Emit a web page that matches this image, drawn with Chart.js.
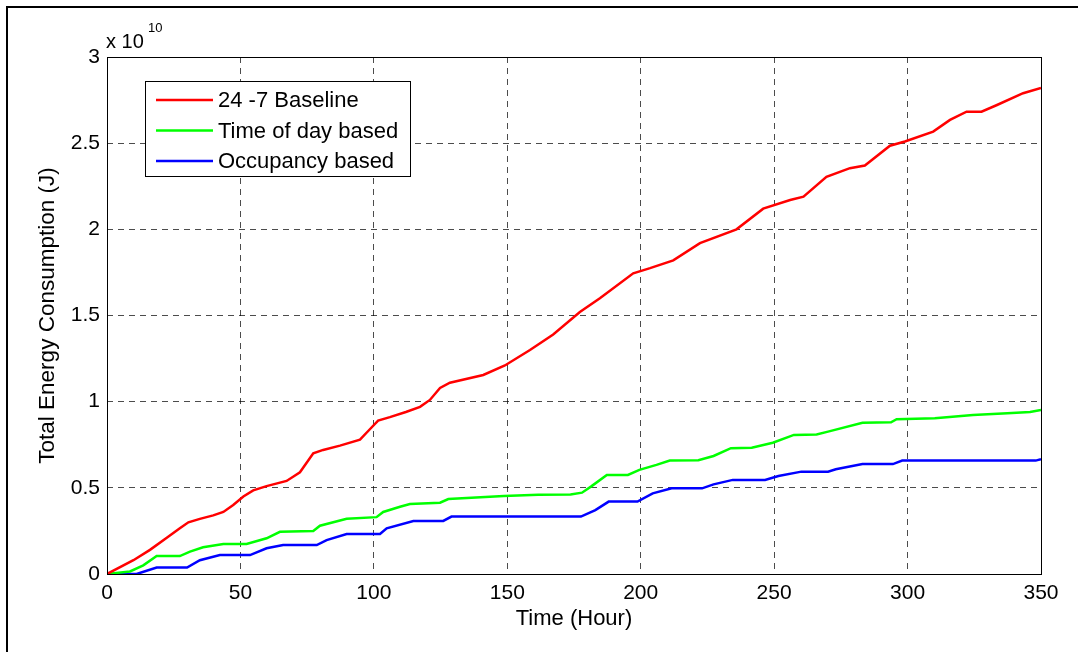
<!DOCTYPE html>
<html>
<head>
<meta charset="utf-8">
<script src="https://cdn.jsdelivr.net/npm/chart.js@4/dist/chart.umd.min.js"></script>
<style>
  html, body { margin: 0; padding: 0; background: #fff; }
  #wrap { position: relative; width: 1078px; height: 652px; }
</style>
</head>
<body>
<div id="wrap"><canvas id="chart"></canvas></div>
<script>
// values, energy in units of 1e10 J
const baselineHours = [0, 9.9, 16.1, 22.4, 27.3, 30.5, 34.8, 39.8, 43.6, 47.3, 51.1, 54.8, 59.8, 67.3, 72.3, 77.3, 81, 87.3, 94.8, 98.5, 101.6, 106, 112, 117.3, 121, 124.8, 128.5, 141, 149.1, 158.5, 167.2, 177.2, 184.7, 197.2, 203.5, 212.2, 222.2, 235.9, 245.9, 256, 261, 269.6, 278.4, 284, 293.4, 299, 309.6, 315.9, 322.1, 327.7, 333.3, 343.3, 350];
const baselineEnergy = [0, 0.08, 0.14, 0.21, 0.265, 0.30, 0.32, 0.34, 0.36, 0.40, 0.45, 0.485, 0.51, 0.54, 0.59, 0.70, 0.72, 0.745, 0.78, 0.84, 0.89, 0.91, 0.94, 0.97, 1.01, 1.08, 1.11, 1.155, 1.21, 1.30, 1.39, 1.52, 1.60, 1.745, 1.775, 1.82, 1.92, 2.00, 2.12, 2.17, 2.19, 2.305, 2.355, 2.37, 2.485, 2.51, 2.567, 2.635, 2.683, 2.683, 2.72, 2.79, 2.82];

const timeOfDayHours = [0, 8.6, 13.6, 18.6, 27.3, 31.1, 36, 43.6, 52.3, 59.8, 64.8, 77.3, 79.8, 89.8, 101, 103.5, 109.8, 113.5, 124.8, 127.9, 148.7, 161.6, 173.7, 178, 181.6, 187.3, 195.2, 199.5, 205.9, 210.9, 221.6, 227.3, 233.8, 241.6, 249.5, 257.4, 265.9, 270.2, 283.1, 293.8, 295.9, 310.2, 324.5, 337.4, 345.9, 350];
const timeOfDayEnergy = [0, 0.015, 0.05, 0.104, 0.104, 0.13, 0.155, 0.174, 0.174, 0.207, 0.245, 0.25, 0.28, 0.32, 0.33, 0.36, 0.39, 0.406, 0.414, 0.435, 0.453, 0.46, 0.462, 0.472, 0.51, 0.575, 0.575, 0.604, 0.633, 0.658, 0.66, 0.685, 0.73, 0.733, 0.762, 0.807, 0.81, 0.826, 0.878, 0.88, 0.898, 0.904, 0.923, 0.933, 0.94, 0.952];

const occupancyHours = [0, 11.1, 18.6, 30, 34.8, 42.3, 53.6, 59.8, 66, 78.6, 82.3, 89.8, 102.3, 104.8, 114.8, 126, 129.1, 177.6, 183, 188, 198.8, 204.5, 211.6, 223, 227.3, 234.5, 246.6, 251.6, 260.2, 270.2, 273.1, 283.1, 294.5, 298, 348, 350];
const occupancyEnergy = [0, 0, 0.037, 0.037, 0.08, 0.11, 0.11, 0.149, 0.168, 0.168, 0.197, 0.232, 0.232, 0.265, 0.308, 0.308, 0.333, 0.333, 0.371, 0.42, 0.42, 0.468, 0.497, 0.497, 0.52, 0.546, 0.546, 0.569, 0.594, 0.594, 0.608, 0.638, 0.638, 0.658, 0.658, 0.666];

const seriesNames = ['24 -7 Baseline', 'Time of day based', 'Occupancy based'];
const seriesColors = ['#ff0000', '#00ff00', '#0000ff'];

const FONT = '"Liberation Sans", Arial, sans-serif';

function toPoints(xs, ys) {
    return xs.map((x, i) => ({ x: x, y: ys[i] }));
}

// figure frame, axes box, exponent label and legend
const matlabDecor = {
    id: 'matlabDecor',
    beforeDraw(chart) {
        const c = chart.ctx;
        c.save();
        c.fillStyle = '#fff';
        c.fillRect(0, 0, chart.width, chart.height);
        c.strokeStyle = '#000';
        c.lineWidth = 2;
        c.beginPath();
        c.moveTo(7, chart.height);
        c.lineTo(7, 7);
        c.lineTo(chart.width, 7);
        c.stroke();
        c.restore();
    },
    afterDraw(chart) {
        const c = chart.ctx;
        const a = chart.chartArea;
        c.save();
        // axes box
        c.strokeStyle = '#000';
        c.lineWidth = 1;
        c.strokeRect(Math.round(a.left) + 0.5, Math.round(a.top) + 0.5,
            Math.round(a.right - a.left), Math.round(a.bottom - a.top));

        // exponent
        c.fillStyle = '#000';
        c.textBaseline = 'alphabetic';
        c.textAlign = 'left';
        c.font = '20px ' + FONT;
        c.fillText('x 10', a.left - 1, a.top - 9);
        c.font = '13px ' + FONT;
        c.fillText('10', a.left + 41, a.top - 25);

        // legend
        const box = { x: 145.5, y: 81.5, w: 265, h: 95 };
        c.fillStyle = '#fff';
        c.fillRect(box.x, box.y, box.w, box.h);
        c.strokeRect(box.x, box.y, box.w, box.h);
        c.font = '22px ' + FONT;
        c.textBaseline = 'middle';
        chart.data.datasets.forEach((ds, i) => {
            const y = 100 + i * 30.5;
            c.strokeStyle = ds.borderColor;
            c.lineWidth = 2.5;
            c.beginPath();
            c.moveTo(156, y);
            c.lineTo(213, y);
            c.stroke();
            c.fillStyle = '#000';
            c.fillText(ds.label, 218, y + 1);
        });
        c.restore();
    }
};

const ctx = document.getElementById('chart').getContext('2d');

const chart = new Chart(ctx, {
    type: 'line',
    data: {
        datasets: [
            { label: seriesNames[0], data: toPoints(baselineHours, baselineEnergy), borderColor: seriesColors[0] },
            { label: seriesNames[1], data: toPoints(timeOfDayHours, timeOfDayEnergy), borderColor: seriesColors[1] },
            { label: seriesNames[2], data: toPoints(occupancyHours, occupancyEnergy), borderColor: seriesColors[2] }
        ].map(ds => Object.assign(ds, {
            borderWidth: 2.5,
            pointRadius: 0,
            tension: 0,
            fill: false
        }))
    },
    options: {
        responsive: true,
        maintainAspectRatio: false,
        animation: false,
        events: [],
        layout: { padding: { left: 0, top: 57, right: 37, bottom: 0 } },
        plugins: {
            legend: { display: false },
            tooltip: { enabled: false }
        },
        scales: {
            x: {
                type: 'linear',
                min: 0,
                max: 350,
                afterFit: s => { s.height = 78; },
                ticks: {
                    stepSize: 50,
                    padding: 7,
                    color: '#000',
                    maxRotation: 0,
                    font: { family: FONT, size: 21 }
                },
                grid: { color: 'rgba(0,0,0,0.7)', lineWidth: 1, drawTicks: false },
                border: { display: false, dash: [6, 5] },
                title: {
                    display: true,
                    text: 'Time (Hour)',
                    color: '#000',
                    font: { family: FONT, size: 22 },
                    padding: { top: 0, bottom: 20 }
                }
            },
            y: {
                type: 'linear',
                min: 0,
                max: 3,
                afterFit: s => { s.width = 107; },
                ticks: {
                    stepSize: 0.5,
                    padding: 7,
                    color: '#000',
                    font: { family: FONT, size: 21 },
                    callback: v => String(v)
                },
                grid: { color: 'rgba(0,0,0,0.7)', lineWidth: 1, drawTicks: false },
                border: { display: false, dash: [6, 5] },
                title: {
                    display: true,
                    text: 'Total Energy Consumption (J)',
                    color: '#000',
                    font: { family: FONT, size: 22.5 },
                    padding: { top: 34, bottom: 0 }
                }
            }
        }
    },
    plugins: [matlabDecor]
});
</script>
</body>
</html>
